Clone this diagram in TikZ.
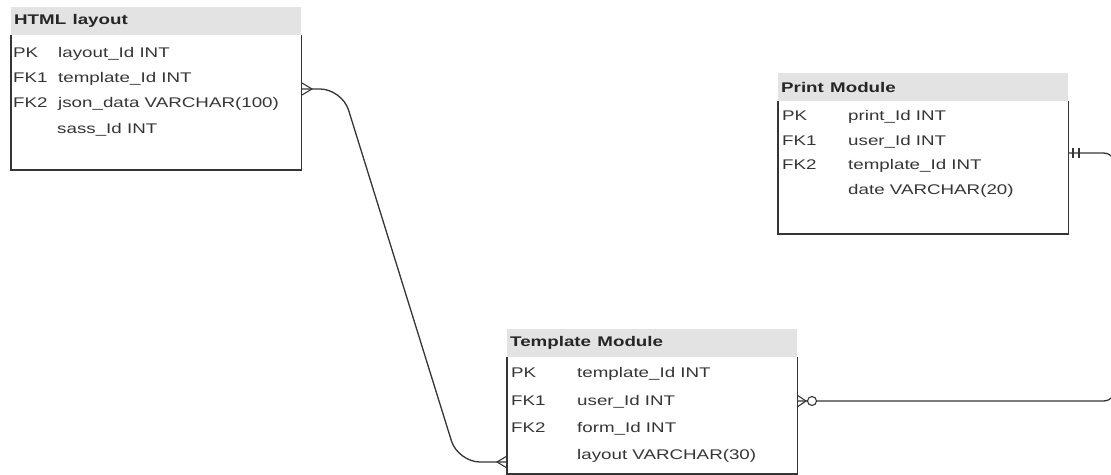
\documentclass[tikz,border=0pt]{standalone}
\usepackage{fontspec}
\setmainfont{Liberation Sans}
\usepackage{tikz}
\usetikzlibrary{positioning,calc}

\definecolor{hdrgray}{HTML}{E3E3E3}
\definecolor{ink}{HTML}{353535}
\newcommand{\xwide}[1]{\scalebox{1.34}[1]{#1}}

\tikzset{
  header/.style={anchor=north west, fill=hdrgray, text width=284pt, inner xsep=3pt,
    inner ysep=0pt, minimum height=28pt, text=black!85, font=\bfseries\fontsize{14}{16}\selectfont},
  tablebody/.style={anchor=north west, inner sep=0pt, minimum width=290pt},
  boxline/.style={draw=ink, line width=1.7pt},
  cell/.style={anchor=base west, inner sep=0pt, text=ink, font=\fontsize{14}{16}\selectfont},
  link/.style={draw=ink, line width=1.3pt},
  tick/.style={draw=ink, line width=1.1pt}
}

\begin{document}
\begin{tikzpicture}[x=1pt,y=-1pt]
  \useasboundingbox (0,0) rectangle (1111,474);

  % HTML layout
  \node[header] (html) at (11,7) {\xwide{HTML layout}};
  \node[tablebody, minimum height=134pt] (htmlbody) at (html.south west) {};
  \draw[boxline] (htmlbody.north west) -- (htmlbody.south west) -- (htmlbody.south east) -- (htmlbody.north east);
  \node[cell] (htmlpk)  at (13,57)  {\xwide{PK}};
  \node[cell] (htmlpkf) at (58,57)  {\xwide{layout\_Id INT}};
  \node[cell] (htmlfa)  at (13,82)  {\xwide{FK1}};
  \node[cell] (htmlfaf) at (58,82)  {\xwide{template\_Id INT}};
  \node[cell] (htmlfb)  at (13,107) {\xwide{FK2}};
  \node[cell] (htmlfbf) at (58,107) {\xwide{json\_data VARCHAR(100)}};
  \node[cell] (htmlsf)  at (57,133) {\xwide{sass\_Id INT}};

  % Print Module
  \node[header] (print) at (778,73) {\xwide{Print Module}};
  \node[tablebody, minimum height=132pt] (printbody) at (print.south west) {};
  \draw[boxline] (printbody.north west) -- (printbody.south west) -- (printbody.south east) -- (printbody.north east);
  \node[cell] (printpk)  at (782,120) {\xwide{PK}};
  \node[cell] (printpkf) at (848,120) {\xwide{print\_Id INT}};
  \node[cell] (printfa)  at (782,145) {\xwide{FK1}};
  \node[cell] (printfaf) at (848,145) {\xwide{user\_Id INT}};
  \node[cell] (printfb)  at (782,169) {\xwide{FK2}};
  \node[cell] (printfbf) at (848,169) {\xwide{template\_Id INT}};
  \node[cell] (printdf)  at (848,194) {\xwide{date VARCHAR(20)}};

  % Template Module
  \node[header] (tmpl) at (507,329) {\xwide{Template Module}};
  \node[tablebody, minimum height=116pt] (tmplbody) at (tmpl.south west) {};
  \draw[boxline] (tmplbody.north west) -- (tmplbody.south west) -- (tmplbody.south east) -- (tmplbody.north east);
  \node[cell] (tmplpk)  at (511,377) {\xwide{PK}};
  \node[cell] (tmplpkf) at (577,377) {\xwide{template\_Id INT}};
  \node[cell] (tmplfa)  at (511,405) {\xwide{FK1}};
  \node[cell] (tmplfaf) at (577,405) {\xwide{user\_Id INT}};
  \node[cell] (tmplfb)  at (511,432) {\xwide{FK2}};
  \node[cell] (tmplfbf) at (577,432) {\xwide{form\_Id INT}};
  \node[cell] (tmpllf)  at (577,459) {\xwide{layout VARCHAR(30)}};

  % connector ends
  \coordinate (htmlport)  at (302,89);
  \coordinate (tmplin)    at (507,462);
  \coordinate (printport) at (1068,153);
  \coordinate (tmplout)   at (797,401);

  % HTML layout -- Template Module
  \draw[link, rounded corners=22pt] (htmlport) -- (342,89) -- (458,462) -- (tmplin);
  \draw[tick] ($(htmlport)+(0,-6)$) -- ++(10,6) -- ++(-10,6);
  \draw[tick] ($(tmplin)+(0,-6)$) -- ++(-10,6) -- ++(10,6);

  % Print Module -- Template Module
  \draw[link, rounded corners=14pt] (printport) -- (1117,153) -- (1117,401) -- (tmplout);
  \draw[tick] ($(printport)+(5,-5)$) -- ++(0,10);
  \draw[tick] ($(printport)+(11,-5)$) -- ++(0,10);
  \draw[tick] ($(tmplout)+(0,-6)$) -- ++(9,6) -- ++(-9,6);
  \draw[tick, fill=white] ($(tmplout)+(15,0)$) circle (4.5);
\end{tikzpicture}
\end{document}
